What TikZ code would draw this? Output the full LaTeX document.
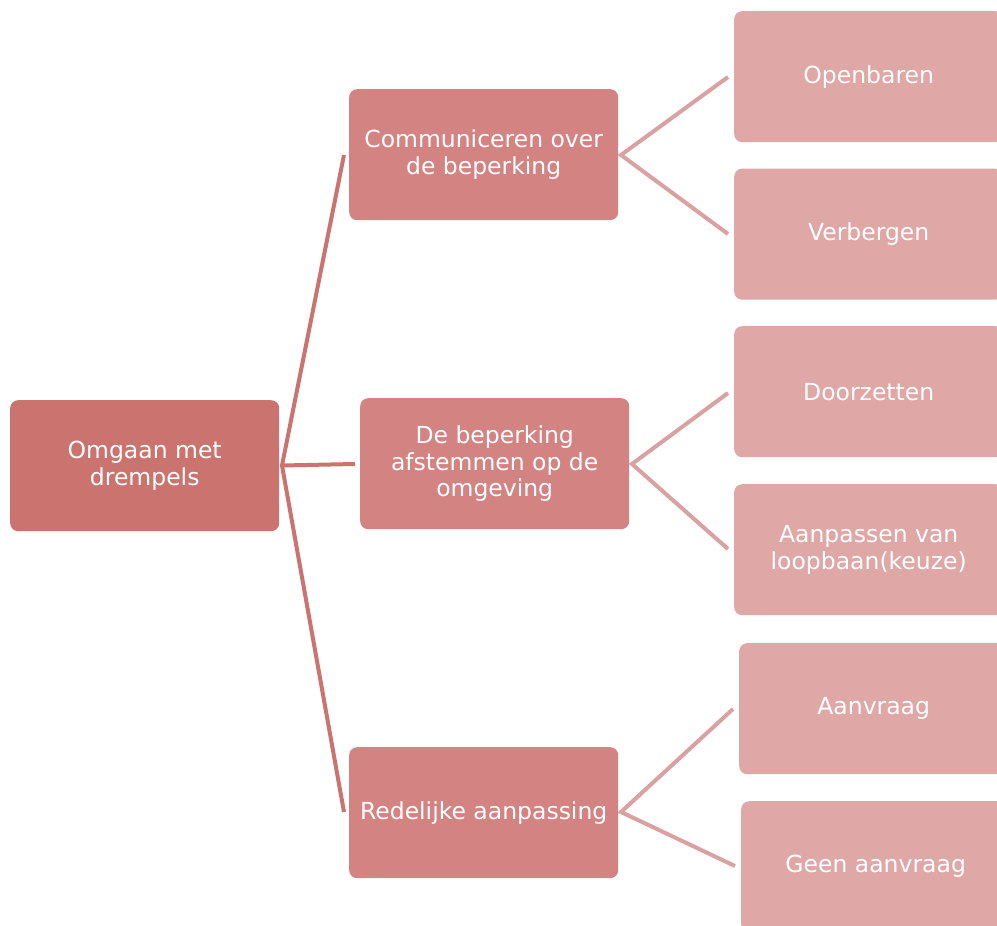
\documentclass[tikz,border=0pt]{standalone}
\usepackage{fontspec}
\setmainfont{DejaVu Sans}
\usetikzlibrary{calc}
\definecolor{rootfill}{RGB}{203,116,111}
\definecolor{midfill}{RGB}{211,131,129}
\definecolor{leaffill}{RGB}{223,167,166}
\definecolor{midline}{RGB}{203,116,111}
\definecolor{leafline}{RGB}{217,161,160}
\tikzset{
  box/.style={anchor=north west, minimum width=269pt, minimum height=131pt,
    rounded corners=8pt, inner sep=2pt, align=center, text=white,
    font=\fontsize{23.5}{26.5}\selectfont},
  rootbox/.style={box, fill=rootfill},
  midbox/.style={box, fill=midfill},
  leafbox/.style={box, fill=leaffill},
  midconn/.style={draw=midline, line width=4pt, line cap=butt, line join=miter},
  leafconn/.style={draw=leafline, line width=4pt, line cap=butt, line join=miter},
}
\begin{document}
\begin{tikzpicture}[x=1pt,y=-1pt]
\useasboundingbox (0,0) rectangle (997,926);
\clip (0,0) rectangle (997,926);
% connectors (drawn first, boxes on top)
\coordinate (rj) at (282,465.5);
\coordinate (m1in) at (344,155);
\coordinate (m2in) at (355,464);
\coordinate (m3in) at (344,812);
\coordinate (m1out) at (621,155);
\coordinate (m2out) at (632,464);
\coordinate (m3out) at (621,812);
\coordinate (l1in) at (728,77);
\coordinate (l2in) at (728,234);
\coordinate (l3in) at (728,393);
\coordinate (l4in) at (728,549);
\coordinate (l5in) at (733,709);
\coordinate (l6in) at (735,866);
\path[midconn] (m1in) -- (rj) -- (m3in);
\path[midconn] (rj) -- (m2in);
\path[leafconn] (l1in) -- (m1out) -- (l2in);
\path[leafconn] (l3in) -- (m2out) -- (l4in);
\path[leafconn] (l5in) -- (m3out) -- (l6in);
% boxes
\node[rootbox] (root) at (10,400) {Omgaan met\\drempels};
\node[midbox] (m1) at (349,89) {Communiceren over\\de beperking};
\node[midbox] (m2) at (360,398) {De beperking\\afstemmen op de\\omgeving};
\node[midbox] (m3) at (349,747) {Redelijke aanpassing};
\node[leafbox] (l1) at (734,11) {Openbaren};
\node[leafbox] (l2) at (734,168.5) {Verbergen};
\node[leafbox] (l3) at (734,326) {Doorzetten};
\node[leafbox] (l4) at (734,484) {Aanpassen van\\loopbaan(keuze)};
\node[leafbox] (l5) at (739,643) {Aanvraag};
\node[leafbox] (l6) at (741,801) {Geen aanvraag};
\end{tikzpicture}
\end{document}
